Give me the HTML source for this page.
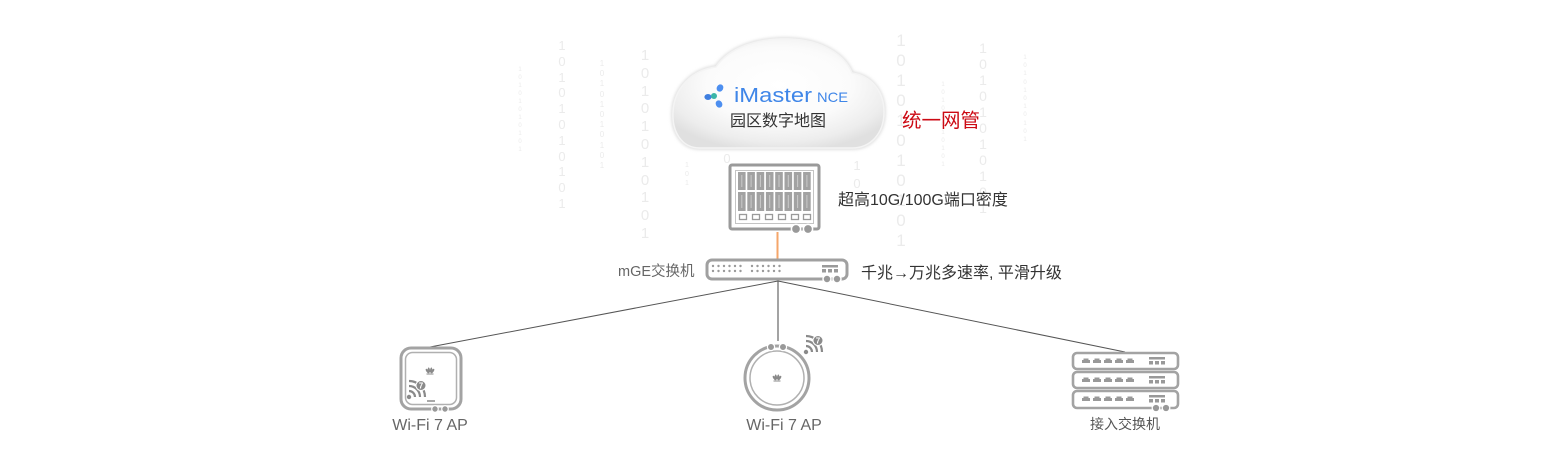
<!DOCTYPE html>
<html>
<head>
<meta charset="utf-8">
<style>
  html,body{margin:0;padding:0;background:#fff;}
  svg{display:block;}
  text{font-family:"Liberation Sans","Noto Sans CJK SC",sans-serif;}
</style>
</head>
<body>
<svg width="1556" height="470" viewBox="0 0 1556 470" xmlns="http://www.w3.org/2000/svg">
  <defs>
    <radialGradient id="cg" cx="0.5" cy="0.42" r="0.62">
      <stop offset="0" stop-color="#ffffff"/>
      <stop offset="0.55" stop-color="#fbfbfb"/>
      <stop offset="0.85" stop-color="#ededed"/>
      <stop offset="1" stop-color="#e0e0e0"/>
    </radialGradient>
    <filter id="sh" x="-10%" y="-10%" width="120%" height="130%">
      <feGaussianBlur stdDeviation="1.5"/>
    </filter>
    <g id="wifi">
      <circle cx="3" cy="17" r="2.2" fill="#8a8a8a"/>
      <path d="M3 11 A6 6 0 0 1 9 17 M3 6 A11 11 0 0 1 14 17 M3 1 A16 16 0 0 1 19 17" fill="none" stroke="#8a8a8a" stroke-width="2.2"/>
      <circle cx="15" cy="5.5" r="5" fill="#8a8a8a" stroke="#fff" stroke-width="1"/>
      <text x="15" y="8.3" font-size="8" font-weight="bold" fill="#fff" text-anchor="middle">7</text>
    </g>
    <g id="hw">
      <ellipse cx="-2.5" cy="0" rx="1.2" ry="2.6" fill="#8a8a8a" transform="rotate(-35 -2.5 0)"/>
      <ellipse cx="2.5" cy="0" rx="1.2" ry="2.6" fill="#8a8a8a" transform="rotate(35 2.5 0)"/>
      <ellipse cx="-1" cy="-1" rx="1" ry="2.6" fill="#8a8a8a" transform="rotate(-12 -1 -1)"/>
      <ellipse cx="1" cy="-1" rx="1" ry="2.6" fill="#8a8a8a" transform="rotate(12 1 -1)"/>
      <rect x="-3.5" y="2.5" width="7" height="1" fill="#8a8a8a"/>
    </g>
  </defs>

  <!-- binary digit columns -->
  <g fill="#ebebeb" text-anchor="middle" dominant-baseline="central">
    <text font-size="6"><tspan x="520" y="70">1</tspan><tspan x="520" y="78">0</tspan><tspan x="520" y="86">1</tspan><tspan x="520" y="94">0</tspan><tspan x="520" y="102">1</tspan><tspan x="520" y="110">0</tspan><tspan x="520" y="118">1</tspan><tspan x="520" y="126">0</tspan><tspan x="520" y="134">1</tspan><tspan x="520" y="142">0</tspan><tspan x="520" y="150">1</tspan></text>
    <text font-size="13"><tspan x="562" y="45">1</tspan><tspan x="562" y="61">0</tspan><tspan x="562" y="77">1</tspan><tspan x="562" y="92">0</tspan><tspan x="562" y="108">1</tspan><tspan x="562" y="124">0</tspan><tspan x="562" y="140">1</tspan><tspan x="562" y="156">0</tspan><tspan x="562" y="171">1</tspan><tspan x="562" y="187">0</tspan><tspan x="562" y="203">1</tspan></text>
    <text font-size="8"><tspan x="602" y="63">1</tspan><tspan x="602" y="73">0</tspan><tspan x="602" y="83">1</tspan><tspan x="602" y="94">0</tspan><tspan x="602" y="104">1</tspan><tspan x="602" y="114">0</tspan><tspan x="602" y="124">1</tspan><tspan x="602" y="134">0</tspan><tspan x="602" y="145">1</tspan><tspan x="602" y="155">0</tspan><tspan x="602" y="165">1</tspan></text>
    <text font-size="15"><tspan x="645" y="55">1</tspan><tspan x="645" y="73">0</tspan><tspan x="645" y="91">1</tspan><tspan x="645" y="108">0</tspan><tspan x="645" y="126">1</tspan><tspan x="645" y="144">0</tspan><tspan x="645" y="162">1</tspan><tspan x="645" y="180">0</tspan><tspan x="645" y="197">1</tspan><tspan x="645" y="215">0</tspan><tspan x="645" y="233">1</tspan></text>
    <text font-size="17"><tspan x="901" y="40">1</tspan><tspan x="901" y="60">0</tspan><tspan x="901" y="80">1</tspan><tspan x="901" y="100">0</tspan><tspan x="901" y="120">1</tspan><tspan x="901" y="140">0</tspan><tspan x="901" y="160">1</tspan><tspan x="901" y="180">0</tspan><tspan x="901" y="200">1</tspan><tspan x="901" y="220">0</tspan><tspan x="901" y="240">1</tspan></text>
    <text font-size="6"><tspan x="943" y="85">1</tspan><tspan x="943" y="93">0</tspan><tspan x="943" y="101">1</tspan><tspan x="943" y="109">0</tspan><tspan x="943" y="117">1</tspan><tspan x="943" y="125">0</tspan><tspan x="943" y="133">1</tspan><tspan x="943" y="141">0</tspan><tspan x="943" y="149">1</tspan><tspan x="943" y="157">0</tspan><tspan x="943" y="165">1</tspan></text>
    <text font-size="14"><tspan x="983" y="48">1</tspan><tspan x="983" y="64">0</tspan><tspan x="983" y="80">1</tspan><tspan x="983" y="96">0</tspan><tspan x="983" y="112">1</tspan><tspan x="983" y="128">0</tspan><tspan x="983" y="144">1</tspan><tspan x="983" y="160">0</tspan><tspan x="983" y="176">1</tspan><tspan x="983" y="192">0</tspan><tspan x="983" y="208">1</tspan></text>
    <text font-size="6"><tspan x="1025" y="58">1</tspan><tspan x="1025" y="66">0</tspan><tspan x="1025" y="74">1</tspan><tspan x="1025" y="83">0</tspan><tspan x="1025" y="91">1</tspan><tspan x="1025" y="99">0</tspan><tspan x="1025" y="107">1</tspan><tspan x="1025" y="115">0</tspan><tspan x="1025" y="124">1</tspan><tspan x="1025" y="132">0</tspan><tspan x="1025" y="140">1</tspan></text>
    <text font-size="7"><tspan x="687" y="165">1</tspan><tspan x="687" y="174">0</tspan><tspan x="687" y="183">1</tspan></text>
    <text font-size="13"><tspan x="727" y="158">0</tspan><tspan x="857" y="165">1</tspan><tspan x="857" y="183">0</tspan></text>
  </g>

  <!-- cloud -->
  <path d="M700 148 C681 148 672 131 673 112 C674 88 692 70 716 67 C729 48 756 38 790 39 C822 40 845 55 852 73 C872 76 884 92 884 112 C884 133 871 148 852 148 Z" fill="none" stroke="#d8d8d8" stroke-width="3" filter="url(#sh)"/>
  <path d="M700 148 C681 148 672 131 673 112 C674 88 692 70 716 67 C729 48 756 38 790 39 C822 40 845 55 852 73 C872 76 884 92 884 112 C884 133 871 148 852 148 Z" fill="url(#cg)" stroke="#f4f4f4" stroke-width="1.5"/>

  <!-- iMaster logo -->
  <ellipse cx="708" cy="97" rx="3.6" ry="3" fill="#3f7fe0"/>
  <ellipse cx="720" cy="88" rx="3.2" ry="3.8" fill="#4d8ff0" transform="rotate(30 720 88)"/>
  <ellipse cx="719" cy="104" rx="3.2" ry="3.8" fill="#4d8ff0" transform="rotate(-30 719 104)"/>
  <circle cx="714" cy="96" r="3" fill="#3ab5a8"/>
  <text x="734" y="102" font-size="20" fill="#3f86e8" textLength="78" lengthAdjust="spacingAndGlyphs">iMaster</text>
  <text x="817" y="102" font-size="14" fill="#3f86e8" textLength="31" lengthAdjust="spacingAndGlyphs">NCE</text>
  <text x="778" y="126" font-size="16" fill="#333" text-anchor="middle">园区数字地图</text>

  <text x="902" y="127" font-size="19.5" fill="#cc0a14">统一网管</text>

  <!-- core chassis -->
  <rect x="730" y="165" width="89" height="64" rx="2" fill="#fff" stroke="#9a9a9a" stroke-width="3"/>
  <rect x="735.5" y="170.5" width="78" height="53" fill="none" stroke="#c4c4c4" stroke-width="1"/>
  <g fill="#a2a2a2">
    <rect x="738" y="172" width="7.6" height="18"/><rect x="747.3" y="172" width="7.6" height="18"/><rect x="756.6" y="172" width="7.6" height="18"/><rect x="765.9" y="172" width="7.6" height="18"/><rect x="775.2" y="172" width="7.6" height="18"/><rect x="784.5" y="172" width="7.6" height="18"/><rect x="793.8" y="172" width="7.6" height="18"/><rect x="803.1" y="172" width="7.6" height="18"/>
    <rect x="738" y="192" width="7.6" height="19"/><rect x="747.3" y="192" width="7.6" height="19"/><rect x="756.6" y="192" width="7.6" height="19"/><rect x="765.9" y="192" width="7.6" height="19"/><rect x="775.2" y="192" width="7.6" height="19"/><rect x="784.5" y="192" width="7.6" height="19"/><rect x="793.8" y="192" width="7.6" height="19"/><rect x="803.1" y="192" width="7.6" height="19"/>
  </g>
  <g stroke="#cacaca" stroke-width="1">
    <path d="M741.8 175 V187 M751.1 175 V187 M760.4 175 V187 M769.7 175 V187 M779 175 V187 M788.3 175 V187 M797.6 175 V187 M806.9 175 V187"/>
    <path d="M741.8 195 V208 M751.1 195 V208 M760.4 195 V208 M769.7 195 V208 M779 195 V208 M788.3 195 V208 M797.6 195 V208 M806.9 195 V208"/>
  </g>
  <g fill="none" stroke="#9a9a9a" stroke-width="1.3">
    <rect x="739.5" y="214.5" width="7" height="5"/><rect x="752.5" y="214.5" width="7" height="5"/><rect x="765.5" y="214.5" width="7" height="5"/><rect x="778.5" y="214.5" width="7" height="5"/><rect x="791.5" y="214.5" width="7" height="5"/><rect x="803.5" y="214.5" width="7" height="5"/>
  </g>
  <circle cx="796" cy="229" r="4.6" fill="#999" stroke="#fff" stroke-width="1.5"/>
  <circle cx="808" cy="229" r="4.6" fill="#999" stroke="#fff" stroke-width="1.5"/>
  <text x="838" y="205" font-size="16" fill="#333">超高10G/100G端口密度</text>

  <!-- orange uplink -->
  <line x1="777.5" y1="232" x2="777.5" y2="259" stroke="#f5a66a" stroke-width="2"/>

  <!-- connectors -->
  <line x1="778" y1="281" x2="778" y2="341" stroke="#999" stroke-width="1.8"/>
  <line x1="778" y1="281" x2="430" y2="347" stroke="#555" stroke-width="1"/>
  <line x1="778" y1="281" x2="1125" y2="352" stroke="#555" stroke-width="1"/>

  <!-- mGE switch -->
  <rect x="707" y="260" width="140" height="19" rx="5" fill="#fff" stroke="#a0a0a0" stroke-width="3"/>
  <g fill="#9a9a9a">
    <circle cx="713" cy="266" r="1.2"/><circle cx="718.5" cy="266" r="1.2"/><circle cx="724" cy="266" r="1.2"/><circle cx="729.5" cy="266" r="1.2"/><circle cx="735" cy="266" r="1.2"/><circle cx="740.5" cy="266" r="1.2"/>
    <circle cx="713" cy="271" r="1.2"/><circle cx="718.5" cy="271" r="1.2"/><circle cx="724" cy="271" r="1.2"/><circle cx="729.5" cy="271" r="1.2"/><circle cx="735" cy="271" r="1.2"/><circle cx="740.5" cy="271" r="1.2"/>
    <circle cx="752" cy="266" r="1.2"/><circle cx="757.5" cy="266" r="1.2"/><circle cx="763" cy="266" r="1.2"/><circle cx="768.5" cy="266" r="1.2"/><circle cx="774" cy="266" r="1.2"/><circle cx="779.5" cy="266" r="1.2"/>
    <circle cx="752" cy="271" r="1.2"/><circle cx="757.5" cy="271" r="1.2"/><circle cx="763" cy="271" r="1.2"/><circle cx="768.5" cy="271" r="1.2"/><circle cx="774" cy="271" r="1.2"/><circle cx="779.5" cy="271" r="1.2"/>
    <rect x="822" y="265" width="16" height="2.5"/>
    <rect x="822" y="269" width="4" height="3.5"/><rect x="828" y="269" width="4" height="3.5"/><rect x="834" y="269" width="4" height="3.5"/>
  </g>
  <circle cx="827" cy="279" r="4" fill="#999" stroke="#fff" stroke-width="1.5"/>
  <circle cx="837" cy="279" r="4" fill="#999" stroke="#fff" stroke-width="1.5"/>
  <text x="618" y="276" font-size="14.5" fill="#666">mGE交换机</text>
  <text x="861" y="278" font-size="16" fill="#333">千兆→万兆多速率, 平滑升级</text>

  <!-- left AP -->
  <rect x="401" y="348" width="60" height="61" rx="10" fill="#fff" stroke="#a3a3a3" stroke-width="3"/>
  <rect x="405.5" y="352.5" width="51" height="52" rx="7" fill="none" stroke="#b0b0b0" stroke-width="1.5"/>
  <use href="#hw" transform="translate(430 371)"/>
  <use href="#wifi" transform="translate(406 380)"/>
  <line x1="427" y1="401" x2="435" y2="401" stroke="#8a8a8a" stroke-width="1.5"/>
  <circle cx="435" cy="409" r="3.3" fill="#999" stroke="#fff" stroke-width="1.2"/>
  <circle cx="445" cy="409" r="3.3" fill="#999" stroke="#fff" stroke-width="1.2"/>
  <text x="430" y="430" font-size="16" fill="#666" text-anchor="middle">Wi-Fi 7 AP</text>

  <!-- center AP -->
  <circle cx="777" cy="378" r="32" fill="#fff" stroke="#a3a3a3" stroke-width="3"/>
  <circle cx="777" cy="378" r="27" fill="none" stroke="#b0b0b0" stroke-width="1.5"/>
  <circle cx="771" cy="347" r="3.6" fill="#999" stroke="#fff" stroke-width="1.2"/>
  <circle cx="783" cy="347" r="3.6" fill="#999" stroke="#fff" stroke-width="1.2"/>
  <use href="#hw" transform="translate(777 378)"/>
  <use href="#wifi" transform="translate(803 335)"/>
  <text x="784" y="430" font-size="16" fill="#666" text-anchor="middle">Wi-Fi 7 AP</text>

  <!-- access switch stack -->
  <g fill="#fff" stroke="#a3a3a3" stroke-width="2.6">
    <rect x="1073" y="353" width="105" height="16" rx="4"/>
    <rect x="1073" y="372" width="105" height="16" rx="4"/>
    <rect x="1073" y="391" width="105" height="17" rx="4"/>
  </g>
  <g fill="#999">
    <path d="M1082 363h8v-3h-1.5v-1.5h-5v1.5h-1.5z M1093 363h8v-3h-1.5v-1.5h-5v1.5h-1.5z M1104 363h8v-3h-1.5v-1.5h-5v1.5h-1.5z M1115 363h8v-3h-1.5v-1.5h-5v1.5h-1.5z M1126 363h8v-3h-1.5v-1.5h-5v1.5h-1.5z"/>
    <path d="M1082 382h8v-3h-1.5v-1.5h-5v1.5h-1.5z M1093 382h8v-3h-1.5v-1.5h-5v1.5h-1.5z M1104 382h8v-3h-1.5v-1.5h-5v1.5h-1.5z M1115 382h8v-3h-1.5v-1.5h-5v1.5h-1.5z M1126 382h8v-3h-1.5v-1.5h-5v1.5h-1.5z"/>
    <path d="M1082 401h8v-3h-1.5v-1.5h-5v1.5h-1.5z M1093 401h8v-3h-1.5v-1.5h-5v1.5h-1.5z M1104 401h8v-3h-1.5v-1.5h-5v1.5h-1.5z M1115 401h8v-3h-1.5v-1.5h-5v1.5h-1.5z M1126 401h8v-3h-1.5v-1.5h-5v1.5h-1.5z"/>
    <rect x="1149" y="357" width="16" height="2.5"/><rect x="1149" y="361" width="4" height="3.5"/><rect x="1155" y="361" width="4" height="3.5"/><rect x="1161" y="361" width="4" height="3.5"/>
    <rect x="1149" y="376" width="16" height="2.5"/><rect x="1149" y="380" width="4" height="3.5"/><rect x="1155" y="380" width="4" height="3.5"/><rect x="1161" y="380" width="4" height="3.5"/>
    <rect x="1149" y="395" width="16" height="2.5"/><rect x="1149" y="399" width="4" height="3.5"/><rect x="1155" y="399" width="4" height="3.5"/><rect x="1161" y="399" width="4" height="3.5"/>
  </g>
  <circle cx="1156" cy="408" r="3.8" fill="#999" stroke="#fff" stroke-width="1.3"/>
  <circle cx="1166" cy="408" r="3.8" fill="#999" stroke="#fff" stroke-width="1.3"/>
  <text x="1125" y="429" font-size="14" fill="#555" text-anchor="middle">接入交换机</text>
</svg>
</body>
</html>
